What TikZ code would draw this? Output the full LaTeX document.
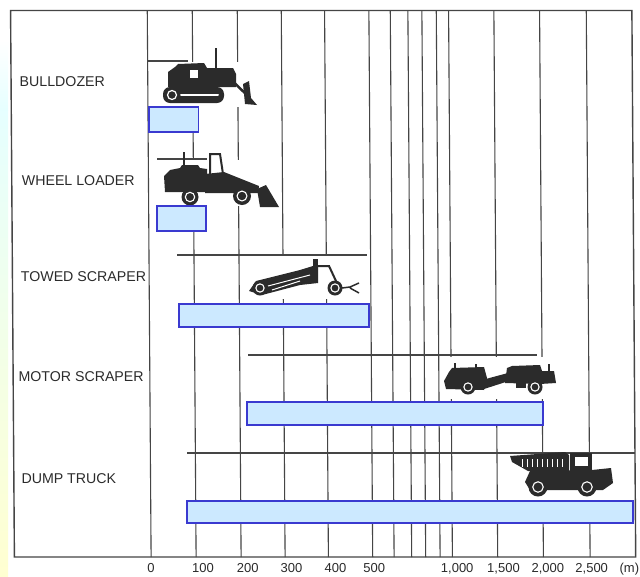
\documentclass[tikz,border=0pt]{standalone}
\usepackage{fontspec}
\setmainfont{Liberation Sans}
\definecolor{barfill}{HTML}{CCE9FF}
\definecolor{barline}{HTML}{3A3AD0}
\definecolor{ink}{HTML}{2B2B2B}
\definecolor{gridgray}{HTML}{454545}
\begin{document}
\begin{tikzpicture}[x=1pt,y=-1pt,
  gridline/.style={gridgray,line width=1.1pt},
  rowline/.style={gridgray,line width=1.1pt},
  rangebar/.style={fill=barfill,draw=barline,line width=1.2pt},
  machine/.style={fill=ink},
  rowlabel/.style={anchor=base west,inner sep=0pt,text=ink,font=\fontsize{14.2}{16}\selectfont},
  ticklabel/.style={anchor=base,inner sep=0pt,text=ink,font=\fontsize{13}{15}\selectfont}]
\useasboundingbox (0,0) rectangle (640,576);
\fill[white] (0,0) rectangle (640,576);
% tint on the left edge
\shade[top color=white,bottom color=cyan!10] (0,40) rectangle (8,110);
\shade[top color=cyan!10,bottom color=yellow!18] (0,110) rectangle (8,576);

% frame and grid, the scan leans a little
\begin{scope}[xslant=-0.007]
\draw[gridgray,line width=1.4pt] (10.5,10.5) -- (631.8,10.5) -- (631.8,557) -- (10.5,557) -- cycle;
\foreach \x in {147.2,192.2,237.2,281.2,324.5,368.8,390.2,407.8,421.8,436.2,448.5,493.8,539.5,586.2}
  \draw[gridline] (\x,10.5) -- (\x,557);
\end{scope}

% white ground under the machines
\fill[white] (157,61.5) rectangle (258,106.5);
\fill[white] (157,159.5) rectangle (281,205.5);
\fill[white] (243,256) rectangle (362,299);
\fill[white] (443,357) rectangle (557,399);
\fill[white] (509,454) rectangle (616,500);

% rows
\draw[rowline] (148,61) -- (188,61);
\draw[rowline] (157,159) -- (207,159);
\draw[rowline] (177,255) -- (367,255);
\draw[rowline] (248,355) -- (537,355);
\draw[rowline] (187,453) -- (635,453);

% bulldozer
\fill[machine,rounded corners=7pt] (163,87) rectangle (224,103);
\draw[white,line width=1.2pt] (172,95) circle [radius=4.5];
\draw[white,line width=2pt,line cap=round] (181,95) -- (218,95);
\fill[machine] (168,87) -- (168,72) -- (175,67) -- (178,64) -- (204,63) -- (207,68) -- (233,68) -- (236,74) -- (236,87) -- cycle;
\fill[white] (190,70) rectangle (198,78);
\draw[ink,line width=1.5pt] (216,48) -- (216,68);
\draw[ink,line width=2.5pt] (222,71) -- (249,97);
\fill[machine] (243,84) -- (249,81) -- (251,98) -- (257,105) -- (245,104) -- cycle;

% wheel loader
\fill[machine] (165,192) -- (164,176) -- (170,170) -- (180,168) -- (182,165) -- (198,165) -- (200,168) -- (207,169) -- (207,192) -- cycle;
\draw[ink,line width=2pt] (184,152) -- (184,166);
\draw[ink,line width=2pt] (210,174) -- (210,154) -- (220,154) -- (223,174);
\fill[machine] (205,174) -- (224,172) -- (259,186) -- (258,193) -- (205,193) -- cycle;
\fill[machine] (257,189) -- (266,185) -- (279,207) -- (260,207) -- cycle;

% towed scraper
\fill[machine] (249,291) -- (256,281) -- (300,270) -- (313,266) -- (318,266) -- (318,283) -- (300,285) -- (262,295) -- cycle;
\draw[white,line width=1pt] (268,286) -- (310,275) (272,290) -- (300,281);
\fill[machine] (313,259) rectangle (318,283);
\draw[ink,line width=2pt] (318,266) -- (329,266) -- (336,281);
\draw[ink,line width=1.5pt] (342,288) -- (350,287) -- (359,283) (350,288) -- (359,293);

% motor scraper
\fill[machine] (446,389) -- (444,381) -- (449,372) -- (452,368) -- (484,367) -- (487,378) -- (484,390) -- cycle;
\draw[ink,line width=1.5pt] (455,363) -- (455,369) (476,364) -- (476,369) (549,364) -- (549,371);
\fill[machine] (482,380) -- (508,373) -- (512,380) -- (484,389) -- cycle;
\fill[machine] (505,383) -- (507,368) -- (512,366) -- (540,365) -- (543,374) -- (540,384) -- cycle;
\fill[machine] (516,383) rectangle (526,388);
\fill[machine] (540,371) -- (554,371) -- (556,383) -- (540,384) -- cycle;

% dump truck
\fill[machine] (510,456) -- (565,452) -- (569,455) -- (569,474) -- (528,471) -- (512,462) -- cycle;
\foreach \x in {522,527,...,562}
  \draw[white,line width=0.8pt] (\x,459) -- (\x,467);
\fill[machine] (570,453) rectangle (592,476);
\fill[white] (575,457) rectangle (588,466);
\fill[machine] (525,482) -- (530,471) -- (592,470) -- (611,468) -- (613,483) -- (603,490) -- (530,490) -- cycle;

% wheels
\foreach \x/\y/\r in {190/197/8.5, 242/196/9, 260/288/7.5, 335/288/7.5, 468/387/7.5, 535/387/7.5, 538/487/9.5, 587/487/9.5} {
  \fill[machine] (\x,\y) circle [radius=\r];
  \draw[white,line width=1.1pt] (\x,\y) circle [radius=0.55*\r];
}

% hauling distances
\draw[rangebar] (149,107) rectangle (198.5,132);
\draw[rangebar] (157,206) rectangle (206,231);
\draw[rangebar] (179,304) rectangle (369,327);
\draw[rangebar] (247,402) rectangle (543,425);
\draw[rangebar] (187,501) rectangle (633,523);

\node[rowlabel] (bulldozer) at (19.5,86) {BULLDOZER};
\node[rowlabel] (loader) at (21.7,185.5) {WHEEL LOADER};
\node[rowlabel] (towed) at (20.7,281) {TOWED SCRAPER};
\node[rowlabel] (motor) at (18.3,381.2) {MOTOR SCRAPER};
\node[rowlabel] (truck) at (21.3,483) {DUMP TRUCK};

\foreach \x/\t [count=\i] in {151/0, 203/100, 247.7/200, 291.5/300, 335.4/400, 374.3/500, 457.2/{1,000}, 503.5/{1,500}, 547.8/{2,000}, 591.7/{2,500}, 629.4/(m)}
  \node[ticklabel] (tick\i) at (\x,572) {\t};
\end{tikzpicture}
\end{document}
